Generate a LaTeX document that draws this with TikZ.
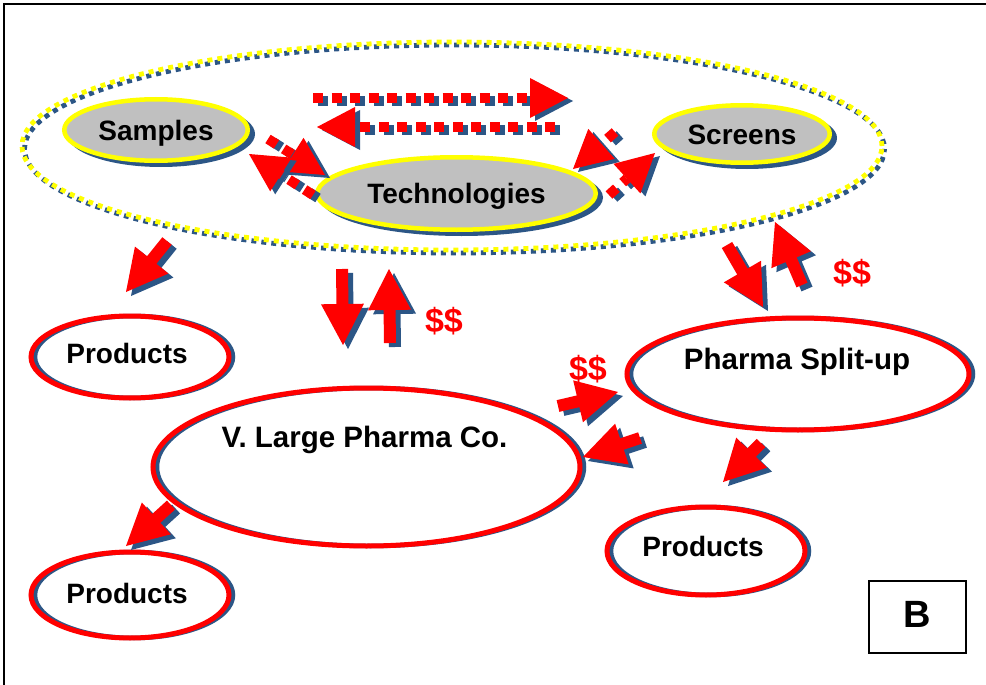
\documentclass[tikz,border=0pt]{standalone}
\usepackage{fontspec}
\setmainfont{Liberation Sans}
\usetikzlibrary{calc,shapes.geometric}

\definecolor{shadowblue}{RGB}{44,86,134}
\definecolor{ovalgray}{RGB}{192,192,192}
\definecolor{brightred}{RGB}{255,0,0}
\definecolor{brightyellow}{RGB}{255,255,0}

\tikzset{
  lbl/.style={inner sep=0pt, font=\fontsize{28}{30}\selectfont\bfseries, text height=20pt, text depth=0pt},
  biglbl/.style={lbl, font=\fontsize{29.5}{32}\selectfont\bfseries, text height=21pt},
  money/.style={inner sep=0pt, text=brightred, font=\fontsize{34}{36}\selectfont\bfseries, text height=24pt, text depth=0pt},
  grayoval/.style={ellipse, draw=brightyellow, fill=ovalgray, line width=4.5pt, inner sep=0pt,
    font=\fontsize{28}{30}\selectfont\bfseries, text height=20pt, text depth=0pt},
  redoval/.style={ellipse, draw=brightred, line width=5pt, inner sep=0pt},
  ovalshadow/.style={fill=shadowblue, transform canvas={shift={(5pt,-4pt)}}},
  rimshadow/.style={draw=shadowblue, line width=4.5pt, transform canvas={shift={(4pt,0pt)}}},
  dotring/.style={line width=4.8pt, dash pattern=on 5pt off 5pt},
  dotshaft/.style={line width=10pt, dash pattern=on 10pt off 8.5pt},
  blockshadow/.style={fill=shadowblue, transform canvas={shift={(5pt,-4pt)}}},
  blockbody/.style={fill=brightred},
  tagbox/.style={draw, line width=2pt, minimum width=97pt, minimum height=72pt, inner sep=0pt,
    font=\fontsize{38}{40}\selectfont\bfseries, text height=27pt, text depth=7pt}
}

% dotted arrow with a triangular head and a blue drop shadow: #1 tail, #2 tip
\newcommand\dotarrow[2]{%
  \path ($(#2)!38pt!(#1)$) coordinate (db);
  \path ($(db)!20pt!90:(#2)$) coordinate (dh1) ($(db)!20pt!-90:(#2)$) coordinate (dh2);
  \begin{scope}[transform canvas={shift={(5pt,-3pt)}}]
    \draw[dotshaft, shadowblue] (#1) -- (db);
    \fill[shadowblue] (dh1) -- (#2) -- (dh2) -- cycle;
  \end{scope}
  \draw[dotshaft, brightred] (#1) -- (db);
  \fill[brightred] (dh1) -- (#2) -- (dh2) -- cycle;
}

% solid block arrow with a blue drop shadow: #1 tail, #2 tip
\newcommand\blockarrow[2]{%
  \path ($(#2)!41pt!(#1)$) coordinate (bb);
  \path ($(bb)!21.5pt!90:(#2)$) coordinate (bh1)
        ($(bb)!21.5pt!-90:(#2)$) coordinate (bh2)
        ($(bb)!6pt!90:(#2)$) coordinate (bs1)
        ($(bb)!6pt!-90:(#2)$) coordinate (bs2)
        ($(#1)!6pt!90:(#2)$) coordinate (bt1)
        ($(#1)!6pt!-90:(#2)$) coordinate (bt2);
  \fill[blockshadow] (bt1) -- (bs1) -- (bh1) -- (#2) -- (bh2) -- (bs2) -- (bt2) -- cycle;
  \fill[blockbody] (bt1) -- (bs1) -- (bh1) -- (#2) -- (bh2) -- (bs2) -- (bt2) -- cycle;
}

\begin{document}
\begin{tikzpicture}[x=1pt, y=-1pt]
\useasboundingbox (0,0) rectangle (986,685);
\fill[white] (0,0) rectangle (986,685);

% page frame
\draw[line width=2.2pt] (4,685) -- (4,4) -- (986,4);

% dotted ring around the research units
\coordinate (hub) at (452,146);
\draw[dotring, shadowblue, dash phase=5pt, transform canvas={shift={(2.5pt,-3pt)}}]
  (hub) ellipse [x radius=430pt, y radius=104pt];
\draw[dotring, brightyellow] (hub) ellipse [x radius=430pt, y radius=104pt];

% gray units
\coordinate (csamp) at (156,130);
\coordinate (ctech) at (456.5,193.5);
\coordinate (cscr) at (742,134);
\fill[ovalshadow] (csamp) ellipse [x radius=94pt, y radius=33pt];
\fill[ovalshadow] (ctech) ellipse [x radius=141.5pt, y radius=38.5pt];
\fill[ovalshadow] (cscr) ellipse [x radius=90pt, y radius=31pt];
\node[grayoval, minimum width=183.5pt, minimum height=61.5pt] (samples) at (csamp) {Samples};
\node[grayoval, minimum width=278.5pt, minimum height=72.5pt] (tech) at (ctech) {Technologies};
\node[grayoval, minimum width=175.5pt, minimum height=57.5pt] (screens) at (cscr) {Screens};

% company ovals
\coordinate (cprodTL) at (130,357);
\coordinate (cvlarge) at (366.5,467);
\coordinate (cpharma) at (798,374);
\coordinate (cprodR) at (706,551);
\coordinate (cprodBL) at (130,595);
\draw[rimshadow] (cprodTL) ellipse [x radius=99pt, y radius=41pt];
\draw[rimshadow] (cvlarge) ellipse [x radius=213.5pt, y radius=79pt];
\draw[rimshadow] (cpharma) ellipse [x radius=171pt, y radius=56pt];
\draw[rimshadow] (cprodR) ellipse [x radius=99pt, y radius=44pt];
\draw[rimshadow] (cprodBL) ellipse [x radius=99pt, y radius=43pt];
\node[redoval, minimum width=198pt, minimum height=82pt] (prodTL) at (cprodTL) {};
\node[redoval, minimum width=427pt, minimum height=158pt] (vlarge) at (cvlarge) {};
\node[redoval, minimum width=342pt, minimum height=112pt] (pharma) at (cpharma) {};
\node[redoval, minimum width=198pt, minimum height=88pt] (prodR) at (cprodR) {};
\node[redoval, minimum width=198pt, minimum height=86pt] (prodBL) at (cprodBL) {};

\node[lbl] (prodTL-text) at ($(prodTL.center)+(-3,-4)$) {Products};
\node[biglbl] (vlarge-text) at ($(vlarge.center)+(-2,-30)$) {V. Large Pharma Co.};
\node[biglbl] (pharma-text) at ($(pharma.center)+(-1,-15)$) {Pharma Split-up};
\node[lbl] (prodR-text) at ($(prodR.center)+(-3,-5)$) {Products};
\node[lbl] (prodBL-text) at ($(prodBL.center)+(-3,-2)$) {Products};

% exchanges between the research units
\coordinate (d1s) at (313,98);  \coordinate (d1e) at (568,98);
\coordinate (d2s) at (555,127); \coordinate (d2e) at (317,127);
\coordinate (d3s) at (268,139); \coordinate (d3e) at (325,175);
\coordinate (d4s) at (313,195); \coordinate (d4e) at (249,154);
\coordinate (d5s) at (615,132); \coordinate (d5e) at (573,169);
\coordinate (d6s) at (609,195); \coordinate (d6e) at (655,153);
\dotarrow{d1s}{d1e}
\dotarrow{d2s}{d2e}
\dotarrow{d3s}{d3e}
\dotarrow{d4s}{d4e}
\dotarrow{d5s}{d5e}
\dotarrow{d6s}{d6e}

% flows of products and money
\coordinate (a1s) at (167,241); \coordinate (a1e) at (126,292);
\coordinate (a2s) at (342,269); \coordinate (a2e) at (343,345);
\coordinate (a3s) at (390,343); \coordinate (a3e) at (389,269);
\coordinate (a4s) at (727,245); \coordinate (a4e) at (763,307);
\coordinate (a5s) at (802,285); \coordinate (a5e) at (775,222);
\coordinate (a6s) at (558,406); \coordinate (a6e) at (618,392);
\coordinate (a7s) at (640,438); \coordinate (a7e) at (583,457);
\coordinate (a8s) at (761,443); \coordinate (a8e) at (723,482);
\coordinate (a9s) at (171,505); \coordinate (a9e) at (126,546);
\blockarrow{a1s}{a1e}
\blockarrow{a2s}{a2e}
\blockarrow{a3s}{a3e}
\blockarrow{a4s}{a4e}
\blockarrow{a5s}{a5e}
\blockarrow{a6s}{a6e}
\blockarrow{a7s}{a7e}
\blockarrow{a8s}{a8e}
\blockarrow{a9s}{a9e}

\node[money] (pay1) at (444,320) {\$\$};
\node[money] (pay2) at (852,272) {\$\$};
\node[money] (pay3) at (588,368) {\$\$};

% panel tag
\node[tagbox] (tag) at (917.5,617) {B};
\end{tikzpicture}
\end{document}
